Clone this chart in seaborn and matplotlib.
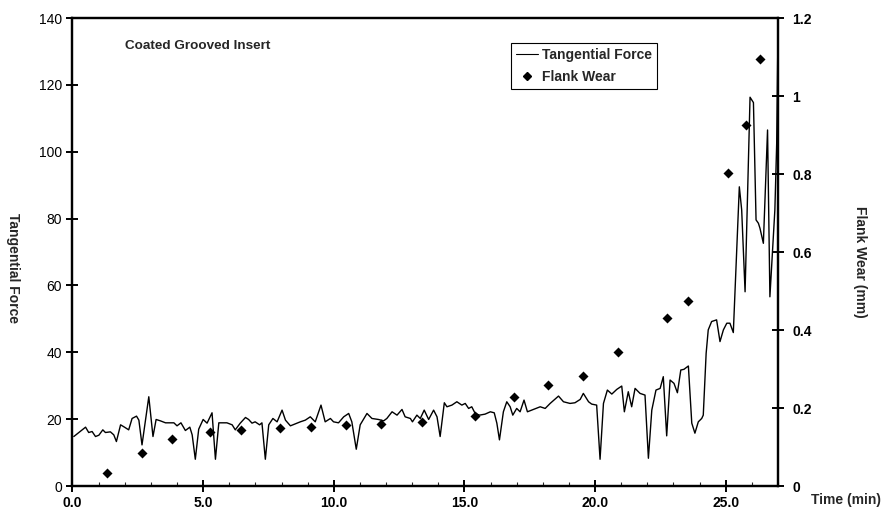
import numpy as np
import pandas as pd
import matplotlib
matplotlib.use("Agg")
import matplotlib.pyplot as plt
import seaborn as sns
from matplotlib.lines import Line2D
from matplotlib.ticker import MultipleLocator

# ---- data ----
time_min = [0.05, 0.50, 0.62, 0.75, 0.88, 1.01, 1.16, 1.26, 1.45, 1.58, 1.68, 1.84, 1.99, 2.15,
            2.28, 2.45, 2.54, 2.66, 2.75, 2.92, 3.08, 3.20, 3.36, 3.56, 3.88, 4.00, 4.15, 4.32,
            4.49, 4.58, 4.70, 4.83, 5.00, 5.15, 5.34, 5.47, 5.60, 5.91, 6.11, 6.23, 6.42, 6.62,
            6.74, 6.87, 6.99, 7.16, 7.25, 7.38, 7.51, 7.67, 7.83, 8.02, 8.15, 8.34, 8.59, 8.72,
            8.91, 9.10, 9.29, 9.51, 9.67, 9.87, 9.99, 10.18, 10.38, 10.57, 10.69, 10.86, 11.01,
            11.27, 11.46, 11.71, 11.91, 12.03, 12.23, 12.42, 12.61, 12.73, 12.93, 13.01, 13.18,
            13.31, 13.46, 13.63, 13.82, 13.95, 14.07, 14.23, 14.33, 14.52, 14.71, 14.90, 15.03,
            15.16, 15.28, 15.41, 15.58, 15.79, 15.99, 16.14, 16.24, 16.34, 16.49, 16.62, 16.75,
            16.85, 17.00, 17.13, 17.28, 17.41, 17.64, 17.90, 18.09, 18.28, 18.60, 18.79, 19.04,
            19.23, 19.43, 19.55, 19.75, 19.87, 20.06, 20.19, 20.32, 20.47, 20.64, 20.83, 21.02,
            21.12, 21.27, 21.40, 21.53, 21.72, 21.91, 22.04, 22.17, 22.33, 22.49, 22.61, 22.74,
            22.87, 23.02, 23.15, 23.28, 23.40, 23.57, 23.70, 23.82, 23.95, 24.08, 24.14, 24.25,
            24.33, 24.46, 24.65, 24.78, 24.91, 25.04, 25.16, 25.29, 25.52, 25.61, 25.74, 25.93,
            26.06, 26.16, 26.25, 26.31, 26.44, 26.60, 26.69, 26.88, 26.95, 27.00]
tangential_force = [14.8, 17.6, 16.0, 16.3, 14.8, 15.2, 16.8, 16.0, 16.2, 15.3, 13.3, 18.3, 17.6, 16.8,
                    20.2, 20.9, 19.7, 12.3, 17.3, 26.7, 14.8, 19.9, 19.5, 18.9, 18.9, 18.0, 18.9, 16.6,
                    17.6, 15.3, 8.0, 17.0, 19.9, 18.8, 21.9, 8.0, 18.9, 18.9, 18.3, 16.8, 18.8, 20.5,
                    19.9, 18.8, 19.2, 18.3, 18.9, 8.0, 18.3, 20.2, 19.2, 22.7, 19.7, 18.0, 18.8, 19.2,
                    19.7, 20.7, 19.2, 24.2, 19.2, 20.2, 19.2, 18.9, 20.7, 21.7, 19.2, 11.0, 18.3,
                    21.7, 20.2, 19.9, 19.5, 20.2, 22.2, 21.2, 22.9, 20.7, 20.2, 19.2, 21.2,
                    20.2, 22.7, 19.9, 22.7, 20.7, 14.8, 24.9, 23.7, 24.2, 25.2, 24.2, 24.7,
                    23.2, 23.7, 21.7, 21.2, 21.5, 22.2, 21.9, 18.8, 13.8, 22.2, 25.2, 23.7,
                    21.2, 23.2, 22.2, 25.7, 22.2, 22.9, 23.7, 23.2, 24.7, 26.9, 25.2, 24.7,
                    24.9, 25.9, 27.7, 25.2, 24.5, 24.2, 8.0, 24.7, 28.7, 27.5, 28.9, 29.9,
                    22.2, 28.2, 23.7, 29.2, 27.7, 27.2, 8.3, 22.7, 28.7, 29.2, 32.7, 15.0,
                    31.7, 30.7, 27.9, 34.7, 34.9, 35.9, 18.8, 15.8, 19.2, 20.2, 21.2, 39.7,
                    46.7, 49.2, 49.7, 43.2, 46.7, 48.7, 48.7, 45.9, 89.5, 82.6, 58.1, 116.3,
                    114.7, 79.6, 78.6, 77.1, 72.6, 106.5, 56.6, 82.6, 102.5, 136.0]
wear_time = [1.33, 2.66, 3.79, 5.26, 6.46, 7.93, 9.14, 10.47, 11.82, 13.38, 15.42, 16.89,
             18.21, 19.55, 20.89, 22.77, 23.57, 25.10, 25.79, 26.32]
flank_wear = [0.033, 0.084, 0.121, 0.139, 0.144, 0.150, 0.151, 0.156, 0.159, 0.164, 0.179,
              0.229, 0.259, 0.282, 0.343, 0.431, 0.474, 0.803, 0.926, 1.096]
x_ticks = [0, 5, 10, 15, 20, 25]
x_tick_labels = ["0.0", "5.0", "10.0", "15.0", "20.0", "25.0"]
left_ticks = [0, 20, 40, 60, 80, 100, 120, 140]
right_ticks = [0, 0.2, 0.4, 0.6, 0.8, 1.0, 1.2]
right_tick_labels = ["0", "0.2", "0.4", "0.6", "0.8", "1", "1.2"]

sns.set_style("ticks")
plt.rcParams['font.family'] = ['Liberation Sans', 'DejaVu Sans']

fig = plt.figure(figsize=(8.95, 5.14), dpi=100)
ax = fig.add_axes([72.5 / 895, 28 / 514, (778 - 72.5) / 895, 468 / 514])

force_df = pd.DataFrame({"time": time_min, "force": tangential_force})
wear_df = pd.DataFrame({"time": wear_time, "wear": flank_wear})

sns.lineplot(data=force_df, x="time", y="force", ax=ax, color="black", linewidth=1.0,
             sort=False, estimator=None, legend=False)
ax2 = ax.twinx()
sns.scatterplot(data=wear_df, x="time", y="wear", ax=ax2, marker="D", color="black",
                s=26, linewidth=0, legend=False)

ax.set_xlim(0, 27)
ax.set_ylim(0, 140)
ax2.set_ylim(0, 1.2)
ax.set_xticks(x_ticks)
ax.set_xticklabels(x_tick_labels, fontsize=10, fontweight="bold")
ax.xaxis.set_minor_locator(MultipleLocator(1))
ax.set_yticks(left_ticks)
ax.set_yticklabels([str(v) for v in left_ticks], fontsize=10)
ax2.set_yticks(right_ticks)
ax2.set_yticklabels(right_tick_labels, fontsize=10, fontweight="bold")

for a in (ax, ax2):
    for s in a.spines.values():
        s.set_visible(True)
        s.set_linewidth(1.6)
        s.set_color("black")
ax.tick_params(axis="both", which="major", direction="inout", length=9, width=1.4,
               colors="black", pad=3)
ax.tick_params(axis="x", which="minor", direction="in", length=3, width=0.8)
ax2.tick_params(axis="y", which="major", direction="inout", length=9, width=1.4,
                colors="black", pad=6)
ax.set_xlabel("")
ax.set_ylabel("")
ax2.set_ylabel("")

fig.text(13 / 895, 1 - 268 / 514, "Tangential Force", rotation=270, ha="center", va="center",
         fontsize=10, fontweight="bold")
fig.text(860 / 895, 1 - 262 / 514, "Flank Wear (mm)", rotation=270, ha="center", va="center",
         fontsize=10, fontweight="bold")
fig.text(846 / 895, 1 - 500 / 514, "Time (min)", ha="center", va="center",
         fontsize=10, fontweight="bold")
ax.text(0.075, 0.94, "Coated Grooved Insert", transform=ax.transAxes, ha="left", va="center",
        fontsize=9.7, fontweight="bold")

handles = [Line2D([0], [0], color="black", linewidth=0.8),
           Line2D([0], [0], color="black", marker="D", linestyle="None", markersize=4)]
leg = ax2.legend(handles, ["Tangential Force", "Flank Wear"], loc="upper left",
                 bbox_to_anchor=(0.612, 0.962), frameon=True, fancybox=False,
                 edgecolor="black", framealpha=1, borderpad=0.35, labelspacing=0.6,
                 handlelength=1.6, handletextpad=0.3, prop={"weight": "bold", "size": 10})
leg.get_frame().set_linewidth(0.8)

fig.savefig("out.png", dpi=100)
